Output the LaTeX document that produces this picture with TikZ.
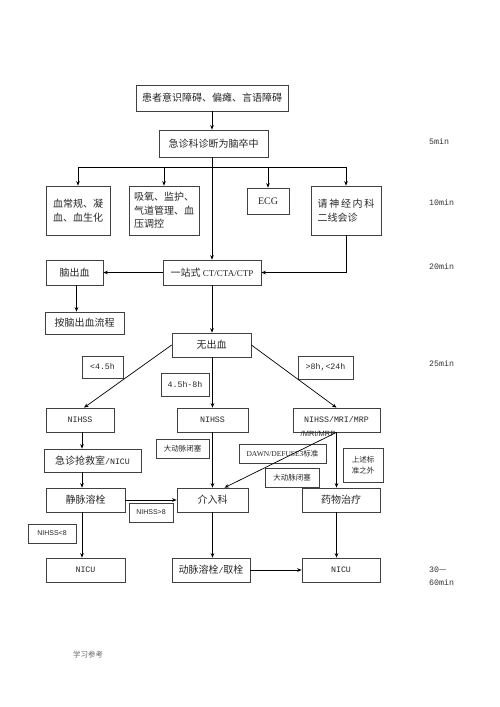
\documentclass[tikz,border=0pt]{standalone}
\usepackage{fontspec}
\setmainfont{Noto Sans CJK SC}
\newfontfamily\hwfont{Liberation Mono}
\newfontfamily\serfont{Liberation Serif}
\newfontfamily\arfont{Liberation Sans}
\usetikzlibrary{arrows.meta,calc}
\newcommand\hwt[1]{{\hwfont\fontsize{8.3}{10}\selectfont #1}}
\newcommand\mybox[7][]{\node[box,#1,minimum width={(#5-#3)*1pt},minimum height={(#6-#4)*1pt}] (#2) at ({(#3+#5)/2},{(#4+#6)/2}) {#7};}
\begin{document}
\begin{tikzpicture}[x=1pt,y=-1pt,
  box/.style={draw=black!75,line width=0.7pt,inner sep=0pt,align=center,font=\fontsize{10}{13.5}\selectfont,text=black!85},
  small/.style={font=\fontsize{7.5}{11}\selectfont},
  sanslab/.style={font=\arfont\fontsize{7}{9}\selectfont},
  arr/.style={-{Stealth[length=4.5pt,width=3.6pt]},line width=0.7pt},
  ln/.style={line width=0.7pt},
  tm/.style={anchor=west,inner sep=0pt,font=\hwfont\fontsize{8.3}{13}\selectfont,text=black!80}]
\useasboundingbox (0,0) rectangle (500,707);

% boxes
\mybox{top}{136}{85}{288}{111}{患者意识障碍、偏瘫、言语障碍}
\mybox{diag}{159}{130}{268}{157}{急诊科诊断为脑卒中}
\mybox{blood}{46}{186}{110}{235}{血常规、凝\\血、血生化}
\mybox[align=left]{oxy}{129}{186}{199}{235}{吸氧、监护、\\气道管理、血\\压调控}
\mybox{ecg}{247}{188}{289}{214}{{\serfont ECG}}
\mybox[align=left]{neuro}{311}{186}{381}{235}{请\,神\,经\,内\,科\\二线会诊}
\mybox{bleed}{46}{260}{103}{285}{脑出血}
\mybox{ct}{163}{260}{261}{285}{一站式 {\serfont\fontsize{9}{11}\selectfont CT/CTA/CTP}}
\mybox{proc}{45}{312}{124}{334}{按脑出血流程}
\mybox{nob}{172}{333}{251}{357}{无出血}
\mybox{lt45}{82}{356}{123}{378}{\hwt{<4.5h}}
\mybox{mid}{161}{373}{209}{396}{\hwt{4.5h-8h}}
\mybox{gt8}{298}{356}{353}{379}{\hwt{>8h,<24h}}
\mybox{n1}{46}{408}{114}{432}{\hwt{NIHSS}}
\mybox{n2}{177}{408}{248}{432}{\hwt{NIHSS}}
\mybox{n3}{293}{408}{380}{432}{\hwt{NIHSS/MRI/MRP}}
\mybox{er}{44}{449}{141}{472}{急诊抢救室\hwt{/NICU}}
\mybox[small]{occa}{156}{439}{209}{458}{大动脉闭塞}
\mybox[small]{dawn}{239}{444}{326}{463}{{\serfont\fontsize{7.5}{9}\selectfont DAWN/DEFUSE3}标准}
\mybox[small]{occb}{265}{468}{319}{487}{大动脉闭塞}
\mybox[small,align=left]{other}{343}{448}{383}{482}{上述标\\准之外}
\mybox{ivt}{46}{488}{125}{512}{静脉溶栓}
\mybox{ir}{177}{488}{248}{512}{介入科}
\mybox{med}{302}{488}{380}{512}{药物治疗}
\mybox[sanslab]{gtn}{129}{503}{173}{522}{NIHSS>8}
\mybox[sanslab]{ltn}{28}{524}{76}{543}{NIHSS<8}
\mybox{nicua}{46}{558}{125}{582}{\hwt{NICU}}
\mybox{thr}{172}{558}{250}{582}{动脉溶栓\hwt{/}取栓}
\mybox{nicub}{302}{558}{380}{582}{\hwt{NICU}}

% overlapping label
\node[inner sep=0pt,font=\arfont\fontsize{7.5}{9}\selectfont,text=black!85] (mrilab) at (318,434) {/MRI/MRP};

% time labels
\node[tm] (t5) at (429,142) {5min};
\node[tm] (t10) at (429,203) {10min};
\node[tm] (t20) at (429,267) {20min};
\node[tm] (t25) at (429,364) {25min};
\node[tm,align=left] (t30) at (429,576) {30{\fontspec{Noto Sans CJK SC}—}\\60min};
\node[anchor=west,inner sep=0pt,font=\fontsize{7.5}{9}\selectfont,text=black!60] (foot) at (73,655) {学习参考};

% connectors
\draw[arr] (top.south) -- (top.south |- diag.north);
\draw[arr] (ct.north |- diag.south) -- (ct.north);
\coordinate (br) at (212,167);
\draw[arr] (br) -| (blood.north);
\draw[arr] (br) -| (oxy.north);
\draw[arr] (br) -| (ecg.north);
\draw[arr] (br) -| (neuro.north);
\draw[arr] (neuro.south) |- (ct.east);
\draw[arr] (ct.west) -- (bleed.east);
\draw[arr] ($(bleed.south)+(2,0)$) -- ($(bleed.south |- proc.north)+(2,0)$);
\draw[arr] (ct.south) -- (ct.south |- nob.north);
\draw[arr] (nob.west) -- ($(n1.north)+(4,0)$);
\draw[arr] (nob.south -| n2.north) -- (n2.north);
\draw[arr] (nob.east) -- (n3.north);
\draw[arr] ($(n1.south)+(2,0)$) -- ($(n1.south |- er.north)+(2,0)$);
\draw[arr] ($(n1.south |- er.south)+(2,0)$) -- ($(n1.south |- ivt.north)+(2,0)$);
\draw[arr] ($(n1.south |- ivt.south)+(2,0)$) -- ($(n1.south |- nicua.north)+(2,0)$);
\draw[arr] (n2.south) -- (ir.north);
\draw[arr] (ivt.east) -- (ir.west);
\draw[arr] (n3.south) -- ($(ir.north)+(12,0)$);
\draw[arr] (n3.south) -- (n3.south |- med.north);
\draw[arr] (n3.south |- med.south) -- (n3.south |- nicub.north);
\draw[arr] (ir.south) -- (ir.south |- thr.north);
\draw[arr] (thr.east) -- (nicub.west);
\end{tikzpicture}
\end{document}
